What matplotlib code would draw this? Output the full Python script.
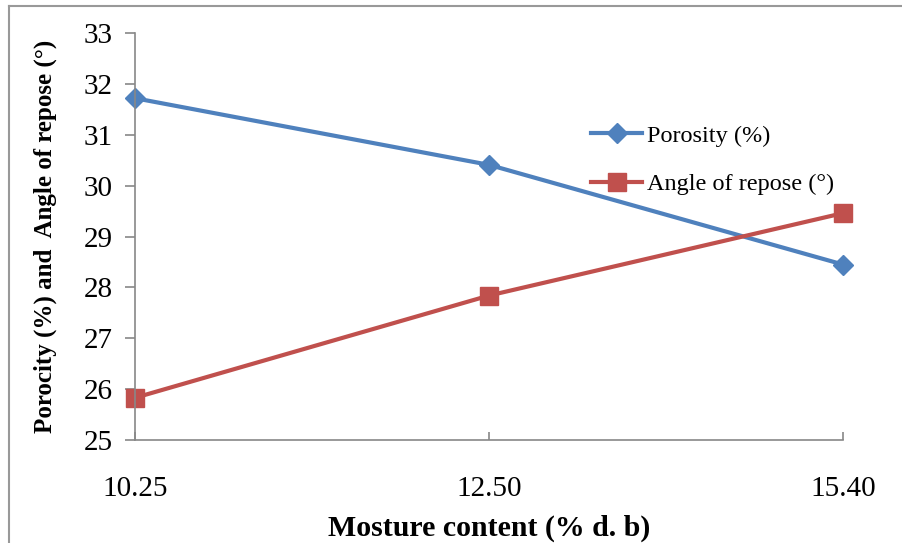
import matplotlib.pyplot as plt
from matplotlib.lines import Line2D

# data
moisture = ["10.25", "12.50", "15.40"]
porosity = [31.72, 30.41, 28.45]
angle_of_repose = [25.83, 27.84, 29.46]

plt.rcParams['font.family'] = ['Liberation Serif', 'DejaVu Serif']

fig = plt.figure(figsize=(9.02, 5.43), dpi=100)
ax = fig.add_axes([0.1497, 0.1897, 0.7849, 0.7493])

x = range(len(moisture))
ax.plot(x, porosity, color='#4F81BD', lw=3, marker='D', markersize=10.5,
        label='Porosity (%)', clip_on=False)
ax.plot(x, angle_of_repose, color='#C0504D', lw=3, marker='s', markersize=13,
        label='Angle of repose (°)', clip_on=False)

ax.set_xlim(0, len(moisture) - 1)
ax.set_ylim(25, 33)
ax.set_yticks(range(25, 34))
ax.set_xticks(list(x))
ax.set_xticklabels(moisture)

for side in ['top', 'right']:
    ax.spines[side].set_visible(False)
for side in ['left', 'bottom']:
    ax.spines[side].set_color('#888888')
    ax.spines[side].set_linewidth(1.2)

ax.tick_params(axis='y', direction='out', length=7, width=1.2, color='#888888',
               labelsize=21, pad=9)
ax.tick_params(axis='x', direction='in', length=6, width=1.2, color='#888888',
               labelsize=21, pad=26)

ax.set_xlabel('Mosture content (% d. b)', fontsize=21.5, fontweight='bold', labelpad=9)
ax.set_ylabel('Porocity (%) and  Angle of repose (°)', fontsize=18,
              fontweight='bold', labelpad=19)

ax.legend(loc='center left', bbox_to_anchor=(0.6441, 0.688), frameon=False,
          fontsize=17.5, handlelength=2.1, handletextpad=0.2, labelspacing=1.1,
          borderpad=0, borderaxespad=0)

# outer frame of the picture (left and top edges visible)
fig.add_artist(Line2D([9 / 902, 9 / 902], [0, 1 - 6 / 543], color='#999999', lw=1.5))
fig.add_artist(Line2D([9 / 902, 1], [1 - 6 / 543, 1 - 6 / 543], color='#999999', lw=1.5))

fig.savefig('out.png', dpi=100)
